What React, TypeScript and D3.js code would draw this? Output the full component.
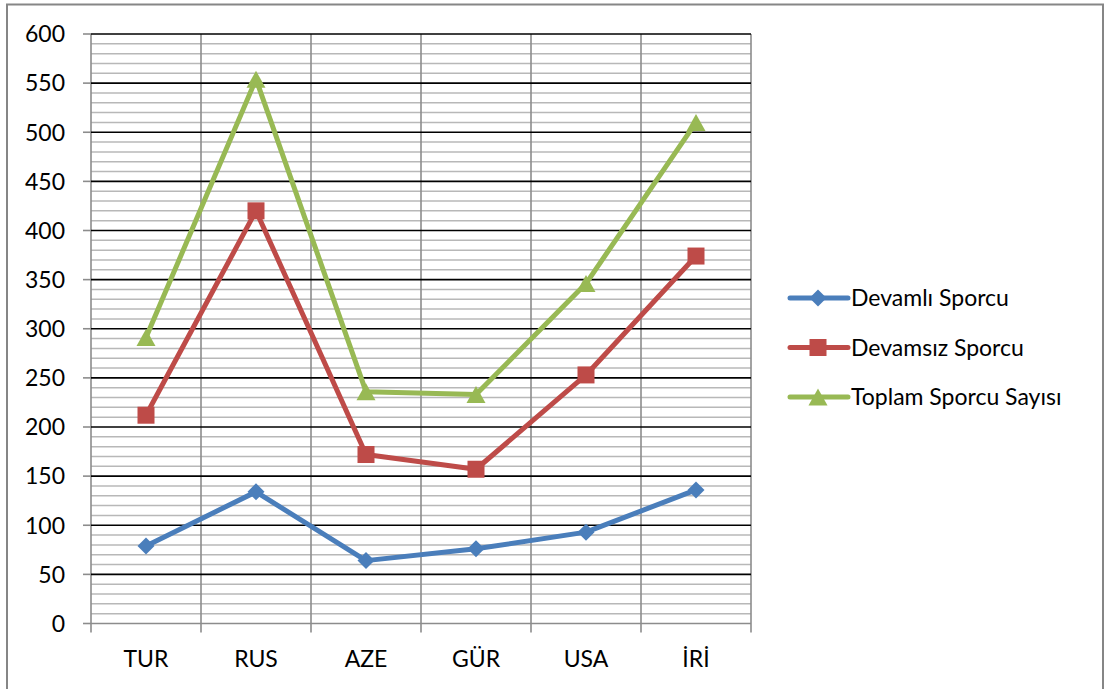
import React from 'react'
import * as d3 from 'd3'

const categories = ['TUR', 'RUS', 'AZE', 'GÜR', 'USA', 'İRİ']
const devamli = [79, 134, 64, 76, 93, 136]
const devamsiz = [212, 420, 172, 157, 253, 374]
const toplam = [291, 554, 236, 233, 346, 510]
const seriesNames = ['Devamlı Sporcu', 'Devamsız Sporcu', 'Toplam Sporcu Sayısı']
const yTicks = [0, 50, 100, 150, 200, 250, 300, 350, 400, 450, 500, 550, 600]

const colors = ['#4a7ebb', '#be4b48', '#98b954']
const font = 'Lato, "Open Sans", sans-serif'

const W = 1105
const H = 689
const plot = { left: 91, right: 751, top: 34, bottom: 623.5 }

function Marker({ kind, x, y, color }: { kind: number; x: number; y: number; color: string }) {
  if (kind === 0) {
    const r = 8.5
    return <path d={`M${x},${y - r}L${x + r},${y}L${x},${y + r}L${x - r},${y}Z`} fill={color} />
  }
  if (kind === 1) {
    const s = 17
    return <rect x={x - s / 2} y={y - s / 2} width={s} height={s} fill={color} />
  }
  const h = 17
  const w = 19
  return <path d={`M${x},${y - h / 2}L${x + w / 2},${y + h / 2}L${x - w / 2},${y + h / 2}Z`} fill={color} />
}

export default function App() {
  const x = d3.scaleBand().domain(categories).range([plot.left, plot.right])
  const y = d3.scaleLinear().domain([0, 600]).range([plot.bottom, plot.top])
  const minor = d3.range(0, 601, 10).filter(v => v % 50 !== 0)
  const series = [devamli, devamsiz, toplam]
  const cx = (c: string) => (x(c) as number) + x.bandwidth() / 2
  const line = d3.line<number>().x((_, i) => cx(categories[i])).y(d => y(d))
  const bounds = categories.map(c => x(c) as number).concat([plot.right])

  return (
    <svg width={W} height={H} style={{ position: 'absolute', left: 0, top: 0, background: '#fff' }}>
      <rect x={7} y={4.5} width={1096} height={690} fill="#fff" stroke="#868686" strokeWidth={2} />

      {/* minor gridlines */}
      {minor.map(v => (
        <line key={'m' + v} x1={plot.left} x2={plot.right} y1={y(v)} y2={y(v)} stroke="#b8b8b8" strokeWidth={1.5} />
      ))}
      {/* vertical gridlines */}
      {bounds.map((b, i) => (
        <line key={'v' + i} x1={b} x2={b} y1={plot.top} y2={plot.bottom + 9} stroke="#8c8c8c" strokeWidth={1.6} />
      ))}
      {/* major gridlines */}
      {yTicks.map(v => (
        <g key={'t' + v}>
          <line x1={plot.left - 8} x2={plot.left} y1={y(v)} y2={y(v)} stroke="#8c8c8c" strokeWidth={1.6} />
          {v > 0 && (
            <line x1={plot.left} x2={plot.right} y1={y(v)} y2={y(v)} stroke="#000" strokeWidth={1.6} />
          )}
          <text x={65} y={y(v)} dy="0.36em" textAnchor="end" fontFamily={font} fontSize={23} fill="#000">
            {v}
          </text>
        </g>
      ))}
      <line x1={plot.left} x2={plot.right} y1={plot.bottom} y2={plot.bottom} stroke="#8c8c8c" strokeWidth={1.6} />

      {categories.map(c => (
        <text key={c} x={cx(c)} y={667} textAnchor="middle" fontFamily={font} fontSize={23} fill="#000">
          {c}
        </text>
      ))}

      {series.map((s, k) => (
        <g key={'s' + k}>
          <path d={line(s) as string} fill="none" stroke={colors[k]} strokeWidth={5} strokeLinejoin="round" strokeLinecap="round" />
          {s.map((v, i) => (
            <Marker key={i} kind={k} x={cx(categories[i])} y={y(v)} color={colors[k]} />
          ))}
        </g>
      ))}

      {seriesNames.map((n, k) => {
        const ly = 298 + k * 49.5
        return (
          <g key={n}>
            <line x1={790} x2={848} y1={ly} y2={ly} stroke={colors[k]} strokeWidth={5} strokeLinecap="round" />
            <Marker kind={k} x={818} y={ly} color={colors[k]} />
            <text x={851} y={ly} dy="0.36em" fontFamily={font} fontSize={23} fill="#000">
              {n}
            </text>
          </g>
        )
      })}
    </svg>
  )
}
